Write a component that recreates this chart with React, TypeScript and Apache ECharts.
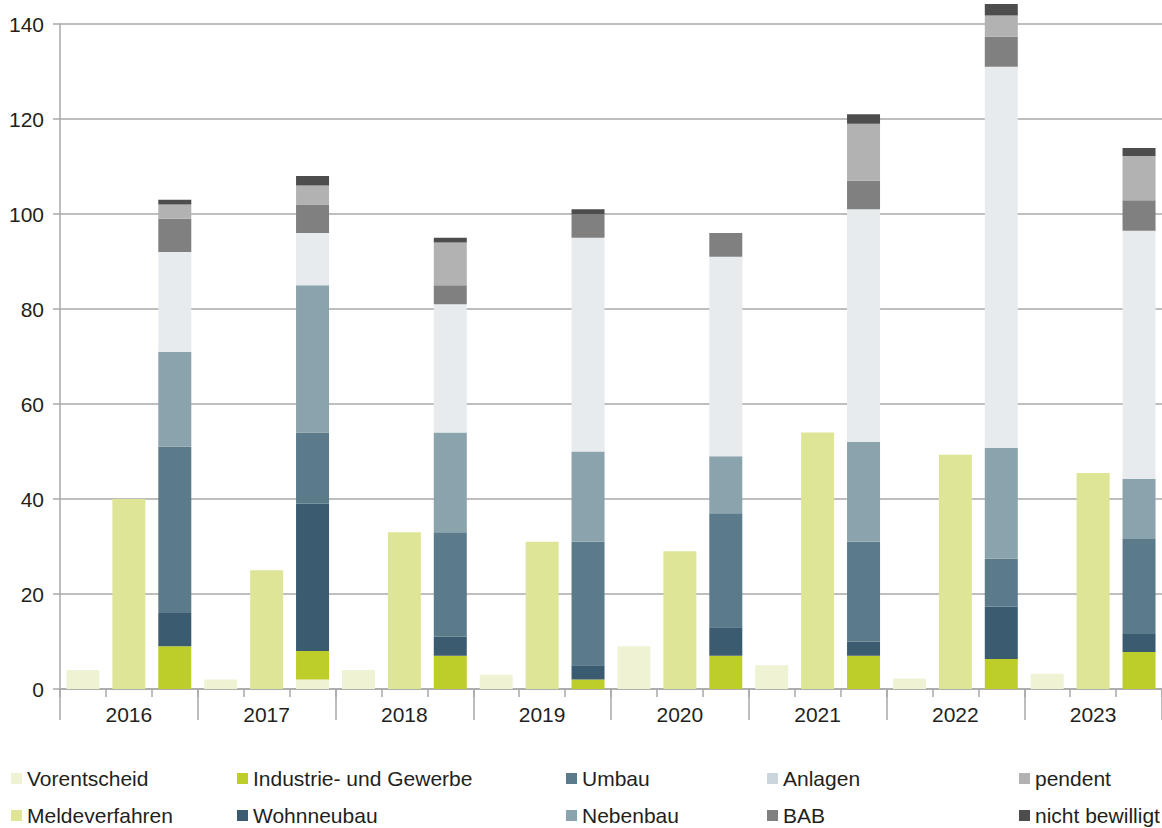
import React, { useEffect, useRef } from 'react';
import * as echarts from 'echarts';

const years = ['2016', '2017', '2018', '2019', '2020', '2021', '2022', '2023'];
const yTicks = [0, 20, 40, 60, 80, 100, 120, 140];

// Separate bars (slot 0 and slot 1 of each year)
const vorentscheid = [4, 2, 4, 3, 9, 5, 2.2, 3.2];
const meldeverfahren = [40, 25, 33, 31, 29, 54, 49.3, 45.5];
// Small Vorentscheid-coloured piece at the bottom of the stacked bar (2017)
const vorentscheidInStack = [0, 2, 0, 0, 0, 0, 0, 0];
// Stacked bar (slot 2 of each year)
const industrie = [9, 6, 7, 2, 7, 7, 6.3, 7.8];
const wohnneubau = [7, 31, 4, 3, 6, 3, 11, 3.8];
const umbau = [35, 15, 22, 26, 24, 21, 10.1, 20];
const nebenbau = [20, 31, 21, 19, 12, 21, 23.4, 12.6];
const anlagen = [21, 11, 27, 45, 42, 49, 80.2, 52.3];
const bab = [7, 6, 4, 5, 5, 6, 6.3, 6.4];
const pendent = [3, 4, 9, 0, 0, 12, 4.5, 9.3];
const nichtBewilligt = [1, 2, 1, 1, 0, 2, 2.4, 1.7];

const FONT = '"Liberation Sans", Arial, Helvetica, sans-serif';
const TEXT = '#231f20';
const GRID = '#a9a9a9';
const FS = 21;

const slotCategories: string[] = [];
years.forEach((y) => {
  for (let s = 0; s < 3; s++) slotCategories.push(y + '-' + s);
});

function toSlots(parts: { values: number[]; slot: number }[]) {
  const out: (number | null)[] = [];
  for (let i = 0; i < years.length; i++) {
    for (let s = 0; s < 3; s++) {
      let v: number | null = null;
      parts.forEach((p) => {
        if (p.slot === s && p.values[i]) v = p.values[i];
      });
      out.push(v);
    }
  }
  return out;
}

const seriesDefs = [
  { name: 'Vorentscheid', color: '#eff3d4', parts: [{ values: vorentscheid, slot: 0 }, { values: vorentscheidInStack, slot: 2 }] },
  { name: 'Meldeverfahren', color: '#dfe596', parts: [{ values: meldeverfahren, slot: 1 }] },
  { name: 'Industrie- und Gewerbe', color: '#bdce2a', parts: [{ values: industrie, slot: 2 }] },
  { name: 'Wohnneubau', color: '#3a5b70', parts: [{ values: wohnneubau, slot: 2 }] },
  { name: 'Umbau', color: '#5b7b8b', parts: [{ values: umbau, slot: 2 }] },
  { name: 'Nebenbau', color: '#8ba3ac', parts: [{ values: nebenbau, slot: 2 }] },
  { name: 'Anlagen', color: '#e7ebee', legendColor: '#cbd6dc', parts: [{ values: anlagen, slot: 2 }] },
  { name: 'BAB', color: '#808080', parts: [{ values: bab, slot: 2 }] },
  { name: 'pendent', color: '#b2b2b2', parts: [{ values: pendent, slot: 2 }] },
  { name: 'nicht bewilligt', color: '#4d4d4d', parts: [{ values: nichtBewilligt, slot: 2 }] },
];

const legendLayout: { name: string; left: number; top: number }[] = [
  { name: 'Vorentscheid', left: 11, top: 768 },
  { name: 'Meldeverfahren', left: 11, top: 805 },
  { name: 'Industrie- und Gewerbe', left: 237, top: 768 },
  { name: 'Wohnneubau', left: 237, top: 805 },
  { name: 'Umbau', left: 566, top: 768 },
  { name: 'Nebenbau', left: 566, top: 805 },
  { name: 'Anlagen', left: 767, top: 768 },
  { name: 'BAB', left: 767, top: 805 },
  { name: 'pendent', left: 1019, top: 768 },
  { name: 'nicht bewilligt', left: 1019, top: 805 },
];

export default function App() {
  const ref = useRef<HTMLDivElement>(null);

  useEffect(() => {
    if (!ref.current) return;
    const chart = echarts.init(ref.current, undefined, { renderer: 'svg' });

    const legends = legendLayout.map((l) => {
      const def = seriesDefs.find((d) => d.name === l.name)!;
      return {
        show: true,
        left: l.left,
        top: l.top,
        padding: 0,
        selectedMode: false,
        icon: 'rect',
        itemWidth: 11,
        itemHeight: 11,
        data: [{ name: l.name, itemStyle: { color: (def as any).legendColor || def.color } }],
        textStyle: { fontFamily: FONT, fontSize: FS, color: TEXT },
      };
    });

    chart.setOption({
      animation: false,
      backgroundColor: '#ffffff',
      textStyle: { fontFamily: FONT },
      grid: { left: 60, top: 24, width: 1104, height: 665, containLabel: false },
      legend: legends,
      xAxis: [
        {
          type: 'category',
          data: slotCategories,
          position: 'bottom',
          boundaryGap: true,
          axisLine: { show: true, lineStyle: { color: GRID, width: 1.5 } },
          axisTick: { show: true, interval: 0, length: 8, lineStyle: { color: GRID, width: 1.5 } },
          axisLabel: { show: false },
          splitLine: { show: false },
        },
        {
          type: 'category',
          data: years,
          position: 'bottom',
          boundaryGap: true,
          axisLine: { show: false },
          axisTick: { show: true, interval: 0, length: 31, lineStyle: { color: GRID, width: 1.5 } },
          axisLabel: { show: true, interval: 0, margin: 15, fontSize: FS, color: TEXT, fontFamily: FONT },
          splitLine: { show: false },
        },
      ],
      yAxis: {
        type: 'value',
        min: yTicks[0],
        max: yTicks[yTicks.length - 1],
        interval: 20,
        axisLine: { show: true, lineStyle: { color: GRID, width: 1.5 } },
        axisTick: { show: true, length: 7, lineStyle: { color: GRID, width: 1.5 } },
        axisLabel: { fontSize: FS, color: TEXT, fontFamily: FONT, margin: 16 },
        splitLine: { show: true, lineStyle: { color: GRID, width: 1.5 } },
      },
      series: seriesDefs.map((d) => ({
        name: d.name,
        type: 'bar',
        stack: 'all',
        xAxisIndex: 0,
        yAxisIndex: 0,
        barWidth: 33,
        clip: false,
        itemStyle: { color: d.color },
        emphasis: { disabled: true },
        data: toSlots(d.parts),
      })),
    });

    return () => chart.dispose();
  }, []);

  return (
    <div
      ref={ref}
      style={{ position: 'absolute', left: 0, top: 0, width: 1162, height: 828, background: '#fff' }}
    />
  );
}
